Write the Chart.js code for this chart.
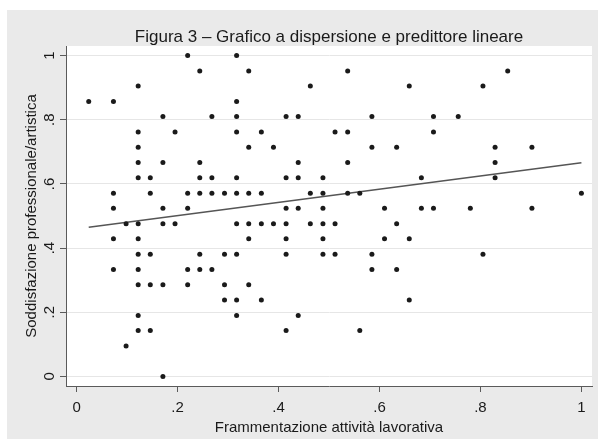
<!DOCTYPE html>
<html lang="it">
<head>
<meta charset="utf-8">
<title>Figura 3 – Grafico a dispersione e predittore lineare</title>
<script src="https://cdn.jsdelivr.net/npm/chart.js@4/dist/chart.umd.min.js"></script>
<style>
  html, body { margin: 0; padding: 0; background: #fff; }
  #wrap { width: 598px; height: 439px; position: relative; }
</style>
</head>
<body>
<div id="wrap"><canvas id="scatter"></canvas></div>
<script>
// Frammentazione attività lavorativa (x) / Soddisfazione professionale/artistica (y)
const xValues = [
  0.024,
  0.073, 0.073, 0.073, 0.073, 0.073,
  0.098, 0.098,
  0.122, 0.122, 0.122, 0.122, 0.122, 0.122, 0.122, 0.122, 0.122, 0.122, 0.122, 0.122,
  0.146, 0.146, 0.146, 0.146, 0.146,
  0.171, 0.171, 0.171, 0.171, 0.171, 0.171,
  0.195, 0.195,
  0.220, 0.220, 0.220, 0.220, 0.220,
  0.244, 0.244, 0.244, 0.244, 0.244, 0.244,
  0.268, 0.268, 0.268, 0.268,
  0.293, 0.293, 0.293, 0.293,
  0.317, 0.317, 0.317, 0.317, 0.317, 0.317, 0.317, 0.317, 0.317, 0.317,
  0.341, 0.341, 0.341, 0.341, 0.341, 0.341,
  0.366, 0.366, 0.366, 0.366,
  0.390, 0.390,
  0.415, 0.415, 0.415, 0.415, 0.415, 0.415, 0.415,
  0.439, 0.439, 0.439, 0.439, 0.439,
  0.463, 0.463, 0.463,
  0.488, 0.488, 0.488, 0.488, 0.488, 0.488,
  0.512, 0.512, 0.512,
  0.537, 0.537, 0.537, 0.537,
  0.561, 0.561,
  0.585, 0.585, 0.585, 0.585,
  0.610, 0.610,
  0.634, 0.634, 0.634,
  0.659, 0.659, 0.659,
  0.683, 0.683,
  0.707, 0.707, 0.707,
  0.756,
  0.780,
  0.805, 0.805,
  0.829, 0.829, 0.829,
  0.854,
  0.902, 0.902,
  1.000
]

const yValues = [
  0.857,
  0.857, 0.571, 0.524, 0.429, 0.333,
  0.476, 0.095,
  0.905, 0.762, 0.714, 0.667, 0.619, 0.476, 0.429, 0.381, 0.333, 0.286, 0.190, 0.143,
  0.619, 0.571, 0.381, 0.286, 0.143,
  0.810, 0.667, 0.524, 0.476, 0.286, 0.000,
  0.762, 0.476,
  1.000, 0.571, 0.524, 0.333, 0.286,
  0.952, 0.667, 0.619, 0.571, 0.381, 0.333,
  0.810, 0.619, 0.571, 0.333,
  0.571, 0.381, 0.286, 0.238,
  1.000, 0.857, 0.810, 0.762, 0.619, 0.571, 0.476, 0.381, 0.238, 0.190,
  0.952, 0.714, 0.571, 0.476, 0.429, 0.286,
  0.762, 0.571, 0.476, 0.238,
  0.714, 0.476,
  0.810, 0.619, 0.524, 0.476, 0.429, 0.381, 0.143,
  0.810, 0.667, 0.619, 0.524, 0.190,
  0.905, 0.571, 0.476,
  0.619, 0.571, 0.524, 0.476, 0.429, 0.381,
  0.762, 0.476, 0.381,
  0.952, 0.762, 0.667, 0.571,
  0.571, 0.143,
  0.810, 0.714, 0.381, 0.333,
  0.524, 0.429,
  0.714, 0.476, 0.333,
  0.905, 0.429, 0.238,
  0.619, 0.524,
  0.810, 0.762, 0.524,
  0.810,
  0.524,
  0.905, 0.381,
  0.714, 0.667, 0.619,
  0.952,
  0.714, 0.524,
  0.571
]

// Predittore lineare (end points)
const fitX = [0.024, 1.0]
const fitY = [0.465, 0.666]

// Tick values and their Stata-style labels
const xTickValues = [0, 0.2, 0.4, 0.6, 0.8, 1]
const xTickLabels = ['0', '.2', '.4', '.6', '.8', '1']
const yTickValues = [0, 0.2, 0.4, 0.6, 0.8, 1]
const yTickLabels = ['0', '.2', '.4', '.6', '.8', '1']

const COLORS = {
  outer: '#eaeaea',
  plot: '#ffffff',
  grid: '#e6e6e6',
  axis: '#5a5a5a',
  text: '#1a1a1a',
  dot: '#1a1a1a',
  fit: '#555555'
}
const FONT = "'Liberation Sans', Arial, Helvetica, sans-serif"

// Stata-like backgrounds: grey graph region, white plot region
const backgroundPlugin = {
  id: 'stataBackground',
  beforeDraw(chart) {
    const { ctx, width, height, chartArea } = chart
    ctx.save()
    ctx.fillStyle = '#ffffff'
    ctx.fillRect(0, 0, width, height)
    ctx.fillStyle = COLORS.outer
    ctx.fillRect(7, 10, width - 7, height - 10)
    ctx.fillStyle = COLORS.plot
    ctx.fillRect(chartArea.left, chartArea.top, chartArea.right - chartArea.left, chartArea.bottom - chartArea.top)
    ctx.restore()
  }
}

const points = xValues.map((x, i) => ({ x, y: yValues[i] }))
const fitLine = fitX.map((x, i) => ({ x, y: fitY[i] }))

new Chart(document.getElementById('scatter'), {
  type: 'scatter',
  data: {
    datasets: [
      {
        label: 'Soddisfazione professionale/artistica',
        data: points,
        backgroundColor: COLORS.dot,
        borderWidth: 0,
        pointRadius: 2.5,
        pointHoverRadius: 2.5
      },
      {
        type: 'line',
        label: 'Fitted values',
        data: fitLine,
        borderColor: COLORS.fit,
        borderWidth: 1.4,
        pointRadius: 0,
        fill: false,
        tension: 0
      }
    ]
  },
  options: {
    responsive: true,
    maintainAspectRatio: false,
    animation: false,
    devicePixelRatio: 1,
    layout: {
      padding: { left: 0, right: 6, top: 0, bottom: 0 }
    },
    plugins: {
      legend: { display: false },
      tooltip: { enabled: false },
      title: {
        display: true,
        text: 'Figura 3 – Grafico a dispersione e predittore lineare',
        fullSize: false,
        color: COLORS.text,
        font: { family: FONT, size: 17, weight: 'normal', lineHeight: 1 },
        padding: { top: 29, bottom: 0 }
      }
    },
    scales: {
      x: {
        type: 'linear',
        min: -0.021,
        max: 1.021,
        afterBuildTicks: (scale) => {
          scale.ticks = xTickValues.map(v => ({ value: v }))
        },
        afterFit: (scale) => {
          scale.height = 53
        },
        ticks: {
          callback: (value, index) => xTickLabels[index],
          color: COLORS.text,
          font: { family: FONT, size: 15 },
          padding: 7,
          maxRotation: 0,
          minRotation: 0
        },
        grid: {
          drawOnChartArea: false,
          drawTicks: true,
          tickLength: 6,
          tickColor: COLORS.axis
        },
        border: { display: true, color: COLORS.axis, width: 1 },
        title: {
          display: true,
          text: 'Frammentazione attività lavorativa',
          color: COLORS.text,
          font: { family: FONT, size: 15 },
          padding: { top: 0, bottom: 2 }
        }
      },
      y: {
        type: 'linear',
        min: -0.03,
        max: 1.03,
        afterBuildTicks: (scale) => {
          scale.ticks = yTickValues.map(v => ({ value: v }))
        },
        afterFit: (scale) => {
          scale.width = 66
        },
        ticks: {
          callback: (value, index) => yTickLabels[index],
          color: COLORS.text,
          font: { family: FONT, size: 15 },
          padding: 4,
          minRotation: 90,
          maxRotation: 90,
          crossAlign: 'center'
        },
        grid: {
          color: COLORS.grid,
          lineWidth: 1,
          drawTicks: true,
          tickLength: 6,
          tickColor: COLORS.axis
        },
        border: { display: true, color: COLORS.axis, width: 1 },
        title: {
          display: true,
          text: 'Soddisfazione professionale/artistica',
          color: COLORS.text,
          font: { family: FONT, size: 15 },
          padding: { top: 23, bottom: 0 }
        }
      }
    }
  },
  plugins: [backgroundPlugin]
})
</script>
</body>
</html>
